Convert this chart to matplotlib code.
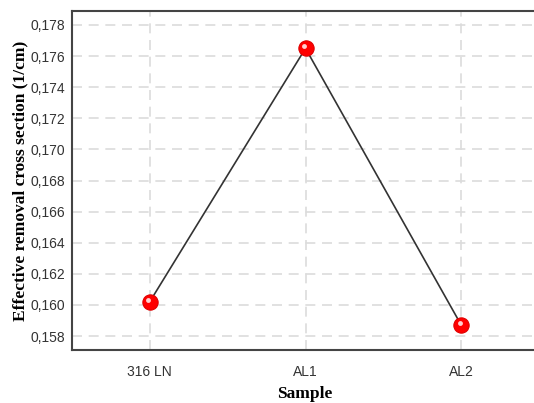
import matplotlib
matplotlib.use("Agg")
import matplotlib.pyplot as plt
import matplotlib.transforms as mtransforms
from matplotlib.ticker import FuncFormatter, MultipleLocator

samples = ["316 LN", "AL1", "AL2"]
values = [0.16021, 0.17650, 0.15871]

W, H = 534, 403
fig = plt.figure(figsize=(W / 100, H / 100), dpi=100)
left, right, top, bottom = 72, 539, 11, 350
aw, ah = right - left, bottom - top
ax = fig.add_axes([left / W, 1 - bottom / H, aw / W, ah / H])

x = list(range(len(samples)))
ax.plot(x, values, color="#333333", lw=1.2, zorder=3)
ax.plot(x, values, ls="none", marker="o", ms=11, mfc="#ff0000", mec="#e00000", mew=0.8, zorder=4)
off = mtransforms.ScaledTranslation(-1.2 / 72, 1.5 / 72, fig.dpi_scale_trans)
ax.plot(x, values, ls="none", marker="o", ms=3.5, mfc="#ffd0d0", mec="none",
        transform=ax.transData + off, zorder=5)

ax.set_xlim(-0.5, 2.5)
ax.set_ylim(0.1571, 0.1789)
ax.set_xticks(x)
ax.set_xticklabels(samples)
ax.yaxis.set_major_locator(MultipleLocator(0.002))
ax.yaxis.set_major_formatter(FuncFormatter(lambda v, p: f"{v:.3f}".replace(".", ",")))

ax.grid(True, color="#dcdcdc", ls=(0, (6, 4)), lw=1.2, zorder=0)
ax.tick_params(axis="y", length=0, pad=5, labelsize=10, labelcolor="#333333")
ax.tick_params(axis="x", length=0, pad=11, labelsize=10, labelcolor="#333333")
for lab in ax.get_xticklabels() + ax.get_yticklabels():
    lab.set_family("Liberation Sans")
for s in ax.spines.values():
    s.set_color("#444444")
    s.set_linewidth(1.5)

ax.set_xlabel("Sample", family="Liberation Serif", fontweight="bold", fontsize=12.5, va="center")
ax.xaxis.set_label_coords((305 - left) / aw, (bottom - 394) / ah)
ax.set_ylabel("Effective removal cross section (1/cm)", family="Liberation Serif",
              fontweight="bold", fontsize=12.5, va="center")
ax.yaxis.set_label_coords((20 - left) / aw, 0.5)

fig.savefig("out.png", dpi=100)
